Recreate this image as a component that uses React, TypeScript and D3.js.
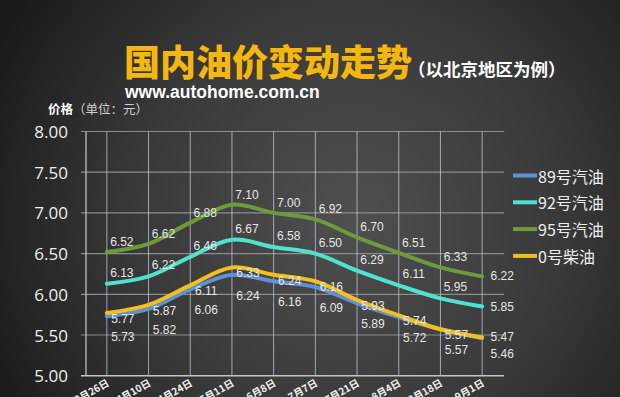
import * as d3 from "d3";
import { useEffect, useRef } from "react";

const dates = ["3月26日", "4月10日", "4月24日", "5月11日", "6月8日", "7月7日", "7月21日", "8月4日", "8月18日", "9月1日"];
const gas89 = [5.73, 5.82, 6.06, 6.24, 6.16, 6.09, 5.89, 5.72, 5.57, 5.46];
const gas92 = [6.13, 6.22, 6.46, 6.67, 6.58, 6.50, 6.29, 6.11, 5.95, 5.85];
const gas95 = [6.52, 6.62, 6.88, 7.10, 7.00, 6.92, 6.70, 6.51, 6.33, 6.22];
const diesel0 = [5.77, 5.87, 6.11, 6.33, 6.24, 6.16, 5.93, 5.74, 5.57, 5.47];
const yTicks = [5, 5.5, 6, 6.5, 7, 7.5, 8];

const W = 620;
const H = 397;

function OilChart() {
    const ref = useRef(null);

    useEffect(() => {
        const svg = d3.select(ref.current);
        svg.selectAll("*").remove();

        const series = [
            { name: "89号汽油", values: gas89, color: "#5f92d4", dx: 16, dy: 21, endDy: 16 },
            { name: "92号汽油", values: gas92, color: "#4fe3cf", dx: 15, dy: -11, endDy: 0 },
            { name: "95号汽油", values: gas95, color: "#6d9b3b", dx: 15, dy: -10, endDy: 0 },
            { name: "0号柴油", values: diesel0, color: "#f2c01e", dx: 16, dy: 6, endDy: 0 },
        ];

        // background
        const defs = svg.append("defs");
        const grad = defs.append("radialGradient")
            .attr("id", "bg")
            .attr("gradientUnits", "userSpaceOnUse")
            .attr("cx", 350).attr("cy", 220).attr("r", 390);
        grad.append("stop").attr("offset", "0%").attr("stop-color", "#4f4f4f");
        grad.append("stop").attr("offset", "55%").attr("stop-color", "#393939");
        grad.append("stop").attr("offset", "100%").attr("stop-color", "#1b1b1b");
        svg.append("rect").attr("width", W).attr("height", H).attr("fill", "url(#bg)");

        // scales
        const x = d3.scaleBand().domain(dates).range([86, 503]);
        const cx = (d: string) => x(d)! + x.bandwidth() / 2;
        const y = d3.scaleLinear().domain([5, 8]).range([375.7, 131.5]);

        // grid
        svg.append("g").selectAll("line")
            .data(yTicks.slice(1))
            .join("line")
            .attr("x1", 81).attr("x2", 504)
            .attr("y1", d => y(d)).attr("y2", d => y(d))
            .attr("stroke", "#8c8c8c").attr("stroke-width", 1.2);

        svg.append("g").selectAll("line")
            .data(dates)
            .join("line")
            .attr("x1", d => cx(d)).attr("x2", d => cx(d))
            .attr("y1", y(8)).attr("y2", y(5))
            .attr("stroke", "#c4ccd8").attr("stroke-opacity", 0.75).attr("stroke-width", 1);

        svg.append("line")
            .attr("x1", 86).attr("x2", 86).attr("y1", y(8)).attr("y2", y(5))
            .attr("stroke", "#c4ccd8").attr("stroke-width", 1.2);
        svg.append("line")
            .attr("x1", 81).attr("x2", 504).attr("y1", y(5)).attr("y2", y(5))
            .attr("stroke", "#c4c4c4").attr("stroke-width", 1.5);

        // y tick labels
        svg.append("g").selectAll("text")
            .data(yTicks)
            .join("text")
            .attr("x", 68).attr("y", d => y(d))
            .attr("text-anchor", "end").attr("dominant-baseline", "central")
            .attr("font-family", "'Open Sans', sans-serif").attr("font-size", 17)
            .attr("fill", "#eeeeee")
            .text(d => d.toFixed(2));

        // x tick labels (cut off by the bottom edge, as in the original)
        svg.append("g").selectAll("text")
            .data(dates)
            .join("text")
            .attr("transform", d => `translate(${cx(d) + 3},${385}) rotate(-30)`)
            .attr("text-anchor", "end")
            .attr("font-family", "'Noto Sans CJK SC', sans-serif").attr("font-weight", 700)
            .attr("font-size", 10).attr("fill", "#f2f2f2")
            .text(d => d);

        // lines
        const line = d3.line<number>()
            .x((_, i) => cx(dates[i]))
            .y(d => y(d))
            .curve(d3.curveCatmullRom.alpha(0.5));

        series.forEach(s => {
            svg.append("path")
                .attr("d", line(s.values))
                .attr("fill", "none")
                .attr("stroke", s.color)
                .attr("stroke-width", 4)
                .attr("stroke-linecap", "round")
                .attr("stroke-linejoin", "round");
        });

        // data labels
        series.forEach(s => {
            svg.append("g").selectAll("text")
                .data(s.values)
                .join("text")
                .attr("x", (_, i) => cx(dates[i]) + (i === dates.length - 1 ? 20 : s.dx))
                .attr("y", (d, i) => y(d) + (i === dates.length - 1 ? s.endDy : s.dy))
                .attr("text-anchor", "middle").attr("dominant-baseline", "central")
                .attr("font-family", "'Liberation Sans', sans-serif").attr("font-size", 12)
                .attr("fill", "#e6e6e6")
                .text(d => d.toFixed(2));
        });

        // legend
        const legend = svg.append("g").selectAll("g")
            .data(series)
            .join("g")
            .attr("transform", (_, i) => `translate(513,${175.5 + i * 26.8})`);
        legend.append("line")
            .attr("x1", 0).attr("x2", 24)
            .attr("stroke", d => d.color).attr("stroke-width", 4);
        legend.append("text")
            .attr("x", 25).attr("dominant-baseline", "central")
            .attr("font-family", "'Noto Sans CJK SC', sans-serif").attr("font-size", 16)
            .attr("fill", "#eeeeee")
            .text(d => d.name);

        // titles
        svg.append("text")
            .attr("x", 124).attr("y", 76)
            .attr("font-family", "'Noto Sans CJK SC', sans-serif").attr("font-weight", 900)
            .attr("font-size", 36).attr("fill", "#f5b70f")
            .text("国内油价变动走势");
        svg.append("text")
            .attr("x", 408).attr("y", 76)
            .attr("font-family", "'Noto Sans CJK SC', sans-serif").attr("font-weight", 700)
            .attr("font-size", 17.5).attr("fill", "#ffffff")
            .text("（以北京地区为例）");
        svg.append("text")
            .attr("x", 125).attr("y", 98)
            .attr("font-family", "'Liberation Sans', sans-serif").attr("font-weight", 700)
            .attr("font-size", 17.5).attr("fill", "#ffffff")
            .text("www.autohome.com.cn");

        const unit = svg.append("text")
            .attr("x", 48).attr("y", 114)
            .attr("font-family", "'Noto Sans CJK SC', sans-serif").attr("font-size", 12.5);
        unit.append("tspan").attr("font-weight", 700).attr("fill", "#ffffff").text("价格");
        unit.append("tspan").attr("fill", "#cfcfcf").text("（单位：元）");
    }, []);

    return <svg width={W} height={H} ref={ref} />;
}

export default function App() {
    return (
        <div style={{ position: "absolute", left: 0, top: 0, width: W, height: H, overflow: "hidden" }}>
            <OilChart />
        </div>
    );
}
